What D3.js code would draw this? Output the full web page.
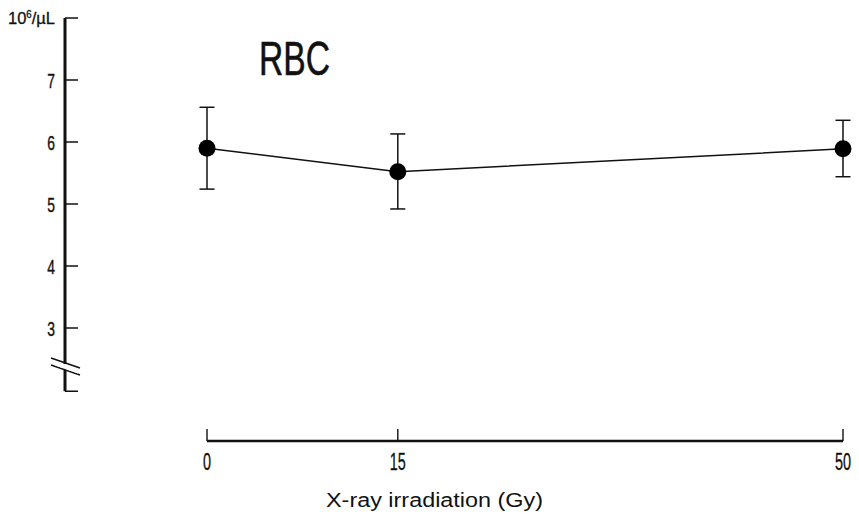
<!DOCTYPE html>
<html>
<head>
<meta charset="utf-8">
<script src="https://cdn.jsdelivr.net/npm/d3@7"></script>
<style>
  body { margin: 0; background: #fff; }
  svg { display: block; }
  text { font-family: "Liberation Sans", Arial, sans-serif; fill: #111; }
</style>
</head>
<body>
<svg width="859" height="517"></svg>
<script>
// RBC count vs X-ray dose
const doses = [0, 15, 50];
const rbcMean = [5.90, 5.52, 5.89];
const rbcUpper = [6.56, 6.13, 6.35];
const rbcLower = [5.24, 4.92, 5.44];
const yTicks = [3, 4, 5, 6, 7];
const xTicks = [0, 15, 50];

const svg = d3.select("svg");

const x = d3.scaleLinear().domain([0, 50]).range([207, 843]);
const y = d3.scaleLinear().domain([3, 8]).range([328, 18]);
const axisX = 65;

// y axis line, broken near the bottom
const yAx = svg.append("g");
yAx.append("line")
    .attr("x1", axisX).attr("x2", axisX)
    .attr("y1", y(8)).attr("y2", y(2.42))
    .attr("stroke", "#111").attr("stroke-width", 3);
yAx.append("line")
    .attr("x1", axisX).attr("x2", axisX)
    .attr("y1", y(2.37)).attr("y2", y(1.98))
    .attr("stroke", "#111").attr("stroke-width", 3);
// break marks
[0, 7].forEach(off => {
    yAx.append("line")
        .attr("x1", 51).attr("y1", 358 + off)
        .attr("x2", 80).attr("y2", 368 + off)
        .attr("stroke", "#111").attr("stroke-width", 1.6);
});
yAx.append("polygon")
    .attr("points", "55,361.5 78,369.5 78,373.5 55,365.5")
    .attr("fill", "#fff");

// ticks pointing right
yAx.selectAll(".ytick")
    .data(yTicks.concat([8, 1.98]))
    .enter().append("line")
    .attr("x1", axisX).attr("x2", axisX + 13)
    .attr("y1", d => y(d)).attr("y2", d => y(d))
    .attr("stroke", "#111").attr("stroke-width", 1.5);

// condensed labels
yAx.selectAll(".ylab")
    .data(yTicks)
    .enter().append("text")
    .attr("transform", d => "translate(55," + (y(d) + 7.5) + ") scale(0.66,1)")
    .attr("text-anchor", "end")
    .attr("stroke", "#111").attr("stroke-width", 0.4)
    .style("font-size", "21px")
    .text(d => d);

const unit = yAx.append("text")
    .attr("x", 8).attr("y", y(8) + 6)
    .attr("textLength", 47)
    .attr("lengthAdjust", "spacingAndGlyphs")
    .attr("stroke", "#111").attr("stroke-width", 0.3)
    .style("font-size", "17px");
unit.append("tspan").text("10");
unit.append("tspan").attr("dy", -6).style("font-size", "10px").text("6");
unit.append("tspan").attr("dy", 6).text("/µL");

// x axis
const xAx = svg.append("g");
xAx.append("line")
    .attr("x1", x(0)).attr("x2", x(50))
    .attr("y1", 441).attr("y2", 441)
    .attr("stroke", "#111").attr("stroke-width", 2.5);
xAx.selectAll(".xtick")
    .data(xTicks)
    .enter().append("line")
    .attr("x1", d => x(d)).attr("x2", d => x(d))
    .attr("y1", 441).attr("y2", 429)
    .attr("stroke", "#111").attr("stroke-width", 1.4);
xAx.selectAll(".xlab")
    .data(xTicks)
    .enter().append("text")
    .attr("transform", d => "translate(" + x(d) + ",470) scale(0.6,1)")
    .attr("text-anchor", "middle")
    .attr("stroke", "#111").attr("stroke-width", 0.3)
    .style("font-size", "24px")
    .text(d => d);

svg.append("text")
    .attr("x", 326).attr("y", 507)
    .attr("textLength", 217)
    .attr("lengthAdjust", "spacingAndGlyphs")
    .style("font-size", "20px")
    .text("X-ray irradiation (Gy)");

// title
svg.append("text")
    .attr("x", 259).attr("y", 75)
    .attr("textLength", 71)
    .attr("lengthAdjust", "spacingAndGlyphs")
    .attr("stroke", "#111").attr("stroke-width", 0.6)
    .style("font-size", "48px")
    .text("RBC");

// data
const pts = doses.map((d, i) => ({ dose: d, m: rbcMean[i], hi: rbcUpper[i], lo: rbcLower[i] }));

svg.append("path")
    .datum(pts)
    .attr("fill", "none")
    .attr("stroke", "#111")
    .attr("stroke-width", 1.5)
    .attr("d", d3.line().x(d => x(d.dose)).y(d => y(d.m)));

const eb = svg.selectAll(".eb").data(pts).enter().append("g");
eb.append("line")
    .attr("x1", d => x(d.dose)).attr("x2", d => x(d.dose))
    .attr("y1", d => y(d.hi)).attr("y2", d => y(d.lo))
    .attr("stroke", "#111").attr("stroke-width", 1.5);
eb.append("line")
    .attr("x1", d => x(d.dose) - 7.5).attr("x2", d => x(d.dose) + 7.5)
    .attr("y1", d => y(d.hi)).attr("y2", d => y(d.hi))
    .attr("stroke", "#111").attr("stroke-width", 1.5);
eb.append("line")
    .attr("x1", d => x(d.dose) - 7.5).attr("x2", d => x(d.dose) + 7.5)
    .attr("y1", d => y(d.lo)).attr("y2", d => y(d.lo))
    .attr("stroke", "#111").attr("stroke-width", 1.5);
eb.append("circle")
    .attr("cx", d => x(d.dose)).attr("cy", d => y(d.m))
    .attr("r", 8.5)
    .attr("fill", "#000");
</script>
</body>
</html>
